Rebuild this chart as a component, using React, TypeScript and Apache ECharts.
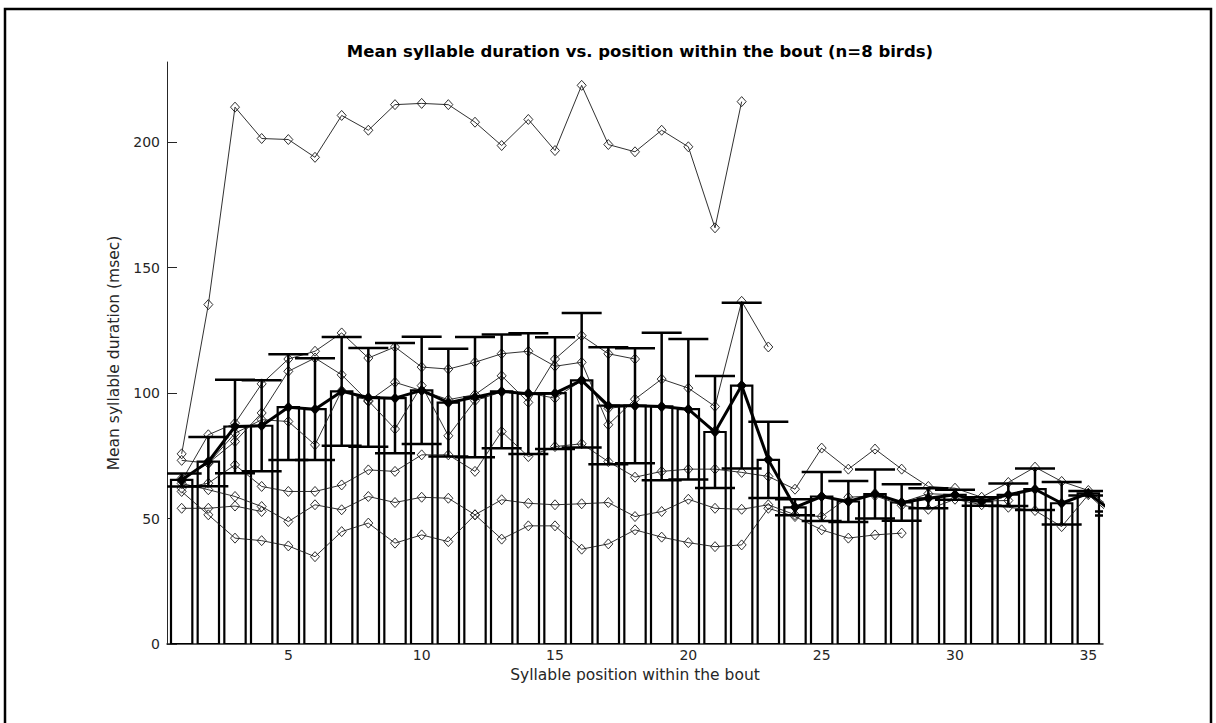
import React, { useEffect, useRef } from "react";
import * as echarts from "echarts";

const positions = [1, 2, 3, 4, 5, 6, 7, 8, 9, 10, 11, 12, 13, 14, 15, 16, 17, 18, 19, 20, 21, 22, 23, 24, 25, 26, 27, 28, 29, 30, 31, 32, 33, 34, 35, 36];

const meanDur = [65.4, 72.7, 86.7, 87.0, 94.4, 93.6, 100.7, 98.3, 98.0, 101.1, 96.2, 98.4, 100.7, 99.8, 100.0, 105.1, 95.0, 95.0, 94.7, 93.6, 84.5, 103.0, 73.4, 54.5, 58.8, 56.8, 59.8, 56.4, 58.1, 59.5, 56.8, 59.5, 61.7, 56.1, 60.1, 52.0];
const semDur = [2.6, 9.8, 18.6, 18.1, 21.1, 20.3, 21.7, 19.7, 22.0, 21.4, 21.5, 24.0, 22.7, 24.1, 22.3, 26.8, 23.3, 22.9, 29.4, 28.0, 22.3, 33.0, 15.2, 3.2, 9.8, 8.2, 9.8, 7.3, 4.0, 2.0, 1.7, 4.5, 8.3, 8.5, 0.9, 0.8];

const birdA = [75.8, 135.3, 214.0, 201.5, 201.1, 194.0, 210.7, 204.8, 215.0, 215.5, 215.0, 208.0, 198.7, 209.1, 196.7, 222.7, 199.1, 196.2, 204.8, 198.2, 165.9, 216.2];
const birdB = [65.0, 83.4, 88.0, 103.7, 113.6, 116.7, 124.0, 114.0, 118.4, 110.4, 109.6, 112.3, 115.7, 116.7, 110.7, 112.3, 87.4, 97.6, 105.6, 102.0, 94.7, 136.6, 118.4];
const birdC = [73.2, 72.1, 80.7, 92.1, 108.7, 114.0, 107.3, 96.7, 104.3, 101.0, 97.4, 99.4, 106.9, 96.3, 113.6, 122.9, 115.7, 113.6];
const birdD = [62.1, 64.1, 71.4, 62.8, 60.8, 60.8, 63.4, 69.4, 68.8, 75.4, 75.4, 68.8, 84.7, 74.7, 78.7, 79.8, 72.7, 66.5, 68.8, 69.7, 69.7, 68.4, 66.8, 61.7, 78.1, 69.7, 77.7, 69.7, 62.8, 62.1, 58.5, 64.4, 70.5, 64.8, 61.2, 53.0];
const birdE = [64.0, 61.5, 58.8, 54.8, 48.8, 55.5, 53.5, 58.8, 56.4, 58.5, 58.1, 51.5, 57.5, 56.1, 55.5, 55.9, 56.4, 50.8, 52.8, 57.7, 54.1, 53.7, 55.5, 51.5, 50.8, 58.5, 59.1, 55.3, 53.7, 57.7, 55.5, 54.5, 53.2, 46.8, 59.5, 50.0];
const birdF = [60.8, 51.5, 42.2, 41.2, 39.1, 34.8, 44.8, 48.2, 40.2, 43.5, 40.8, 51.5, 41.8, 47.1, 47.1, 37.8, 39.9, 45.5, 42.6, 40.4, 38.8, 39.5, 54.1, 50.8, 45.5, 42.2, 43.5, 44.2];
const birdG = [66.0, 72.0, 84.0, 89.4, 88.7, 79.4, 101.0, 97.0, 85.7, 103.0, 83.0, 97.0, 100.5, 100.0, 98.0, 105.0, 94.0, 95.0, 94.5, 93.5, 85.0, 103.0, 73.5, 54.5, 58.8, 56.8, 60.0, 56.4, 59.9, 59.5, 57.0, 57.2];
const birdH = [54.1, 54.1, 55.0, 52.8];

const birds = [birdA, birdB, birdC, birdD, birdE, birdF, birdG, birdH];

const xTicks = [5, 10, 15, 20, 25, 30, 35];
const yTicks = [0, 50, 100, 150, 200];

const TITLE = "Mean syllable duration vs. position within the bout (n=8 birds)";
const X_NAME = "Syllable position within the bout";
const Y_NAME = "Mean syllable duration (msec)";

const FONT = "DejaVu Sans";
const AXIS_COLOR = "#262626";

export default function App() {
  const ref = useRef<HTMLDivElement>(null);

  useEffect(() => {
    document.body.style.margin = "0";
    const chart = echarts.init(ref.current!, null, { renderer: "svg" });

    const barData = positions.map((p, i) => [p, meanDur[i]]);
    const errData = positions.map((p, i) => [p, meanDur[i], semDur[i]]);

    const birdSeries = birds.map((b, k) => ({
      type: "line",
      name: "bird" + k,
      data: b.map((v, i) => [positions[i], v]),
      z: 3,
      clip: true,
      symbol: "diamond",
      symbolSize: [9, 10],
      lineStyle: { color: "#1a1a1a", width: 0.9 },
      itemStyle: { color: "rgba(0,0,0,0)", borderColor: "#1a1a1a", borderWidth: 0.9 },
      emphasis: { disabled: true },
    }));

    const option: any = {
      animation: false,
      backgroundColor: "#fff",
      title: {
        text: TITLE,
        left: 635,
        textAlign: "center",
        top: 38,
        textStyle: { fontFamily: FONT, fontSize: 16.5, fontWeight: "bold", color: "#000" },
      },
      grid: { left: 167, right: 113, top: 62, bottom: 79, containLabel: false },
      xAxis: {
        type: "value",
        min: 0.45,
        max: 35.55,
        name: X_NAME,
        nameLocation: "middle",
        nameGap: 22,
        nameTextStyle: { fontFamily: FONT, fontSize: 15.5, color: AXIS_COLOR },
        axisLine: { show: true, lineStyle: { color: AXIS_COLOR, width: 1.5 } },
        axisTick: { show: true, inside: true, length: 10, customValues: xTicks, lineStyle: { color: AXIS_COLOR } },
        axisLabel: { customValues: xTicks, fontFamily: FONT, fontSize: 14, color: AXIS_COLOR, margin: 4 },
        splitLine: { show: false },
      },
      yAxis: {
        type: "value",
        min: 0,
        max: 232,
        name: Y_NAME,
        nameLocation: "middle",
        nameGap: 39,
        nameTextStyle: { fontFamily: FONT, fontSize: 15.5, color: AXIS_COLOR },
        axisLine: { show: true, lineStyle: { color: AXIS_COLOR, width: 1 } },
        axisTick: { show: true, inside: true, length: 10, customValues: yTicks, lineStyle: { color: AXIS_COLOR } },
        axisLabel: { customValues: yTicks, fontFamily: FONT, fontSize: 14, color: AXIS_COLOR, margin: 7 },
        splitLine: { show: false },
      },
      graphic: [
        {
          type: "rect",
          shape: { x: 5, y: 9, width: 1206, height: 730 },
          style: { fill: "none", stroke: "#000", lineWidth: 2.5 },
          z: 100,
        },
      ],
      series: [
        {
          type: "custom",
          name: "bars",
          data: barData,
          clip: true,
          z: 1,
          encode: { x: 0, y: 1 },
          renderItem: (params: any, api: any) => {
            const x = api.value(0);
            const y = api.value(1);
            const p0 = api.coord([x - 0.4, y]);
            const p1 = api.coord([x + 0.4, 0]);
            return {
              type: "rect",
              shape: { x: p0[0], y: p0[1], width: p1[0] - p0[0], height: p1[1] - p0[1] },
              style: { fill: "#fff", stroke: "#000", lineWidth: 2.2 },
            };
          },
        },
        ...birdSeries,
        {
          type: "custom",
          name: "err",
          data: errData,
          clip: true,
          z: 4,
          encode: { x: 0, y: 1 },
          renderItem: (params: any, api: any) => {
            const x = api.value(0);
            const m = api.value(1);
            const s = api.value(2);
            const top = api.coord([x, m + s]);
            const bot = api.coord([x, m - s]);
            const l = api.coord([x - 0.75, m])[0];
            const r = api.coord([x + 0.75, m])[0];
            const st = { stroke: "#000", lineWidth: 2.5 };
            return {
              type: "group",
              children: [
                { type: "line", shape: { x1: top[0], y1: top[1], x2: bot[0], y2: bot[1] }, style: st },
                { type: "line", shape: { x1: l, y1: top[1], x2: r, y2: top[1] }, style: st },
                { type: "line", shape: { x1: l, y1: bot[1], x2: r, y2: bot[1] }, style: st },
              ],
            };
          },
        },
        {
          type: "line",
          name: "mean",
          data: barData,
          z: 5,
          clip: true,
          symbol: "diamond",
          symbolSize: [10, 11],
          lineStyle: { color: "#000", width: 3 },
          itemStyle: { color: "#000" },
          emphasis: { disabled: true },
        },
      ],
    };

    chart.setOption(option);
    return () => chart.dispose();
  }, []);

  return <div ref={ref} style={{ position: "fixed", left: 0, top: 0, width: 1216, height: 723 }} />;
}
